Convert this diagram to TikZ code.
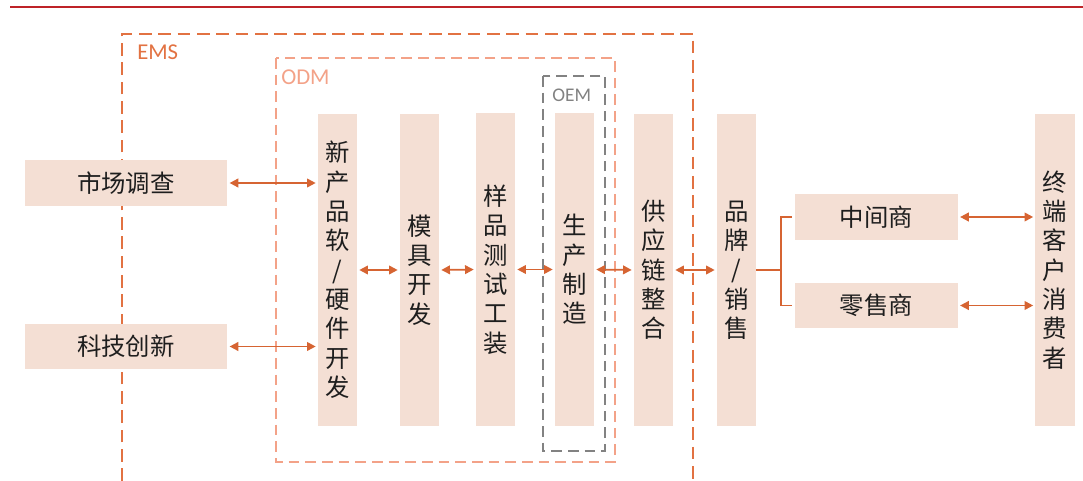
\documentclass[tikz,border=0pt]{standalone}
\usepackage{fontspec}
\setmainfont{Carlito}
\newfontfamily\cjk{Noto Sans CJK SC}
\usetikzlibrary{arrows.meta}
\definecolor{boxfill}{RGB}{244,223,212}
\definecolor{arrcol}{RGB}{214,100,50}
\definecolor{emscol}{RGB}{226,114,66}
\definecolor{odmcol}{RGB}{243,162,136}
\definecolor{oemcol}{RGB}{130,130,130}
\definecolor{topred}{RGB}{190,35,40}
\definecolor{txt}{RGB}{30,30,30}
\tikzset{
  box/.style={fill=boxfill, draw=none, inner sep=0pt, align=center, text=txt,
    font=\cjk\fontsize{18.3}{22}\selectfont},
  hbox/.style={box, minimum width=152pt, minimum height=34pt},
  mbox/.style={box, minimum width=122pt, minimum height=34pt},
  vbox/.style={box, minimum width=29.3pt, minimum height=234pt},
  arr/.style={draw=arrcol, line width=1.3pt, {Triangle[width=6.5pt,length=6.5pt]}-{Triangle[width=6.5pt,length=6.5pt]}, shorten <=1.5pt, shorten >=1.5pt},
  brk/.style={draw=arrcol, line width=1.3pt},
  emsbox/.style={draw=emscol, line width=1.4pt, dash pattern=on 9.5pt off 5pt},
  odmbox/.style={draw=odmcol, line width=1.3pt, dash pattern=on 8pt off 4.5pt},
  oembox/.style={draw=oemcol, line width=1.3pt, dash pattern=on 8pt off 4.5pt},
  lbl/.style={inner sep=0pt, anchor=west}
}
\begin{document}
\begin{tikzpicture}[x=0.75pt,y=-0.75pt]
\useasboundingbox (0,0) rectangle (1083,481);
% top rule
\draw[topred, line width=1.5pt] (10,7) -- (1083,7);
% frames
\draw[emsbox] (122,481) -- (122,34) -- (693,34) -- (693,481);
\node[lbl, text=emscol, font=\fontsize{17}{20}\selectfont] (ems) at (137,52) {EMS};
\draw[odmbox] (276,58) rectangle (615,462);
\node[lbl, text=odmcol, font=\fontsize{17}{20}\selectfont] (odm) at (281,77) {ODM};
\draw[oembox] (543,76) rectangle (605,451);
\node[lbl, text=oemcol, font=\fontsize{14.5}{17}\selectfont] (oem) at (552,95) {OEM};
% boxes
\node[hbox] (mkt) at (126,183) {市场调查};
\node[hbox] (tech) at (126,346.5) {科技创新};
\node[vbox] (npd) at (337.5,270) {新\\产\\品\\软\\/\\硬\\件\\开\\发};
\node[vbox] (mold) at (419.5,270) {模\\具\\开\\发};
\node[vbox] (test) at (495.5,269.5) {样\\品\\测\\试\\工\\装};
\node[vbox] (prod) at (574.5,269.5) {生\\产\\制\\造};
\node[vbox] (supp) at (653.5,270) {供\\应\\链\\整\\合};
\node[vbox] (brand) at (736.5,270) {品\\牌\\/\\销\\售};
\node[mbox] (mid) at (876.5,217) {中间商};
\node[mbox] (ret) at (876.5,305.5) {零售商};
\node[vbox] (cons) at (1055,270) {终\\端\\客\\户\\消\\费\\者};
% connectors
\draw[arr] (mkt.east) -- (mkt.east -| npd.west);
\draw[arr] (tech.east) -- (tech.east -| npd.west);
\draw[arr] (npd.east) -- (mold.west);
\draw[arr] (mold.east) -- (test.west);
\draw[arr] (test.east) -- (prod.west);
\draw[arr] (prod.east) -- (supp.west);
\draw[arr] (supp.east) -- (brand.west);
\coordinate (br) at (781,270);
\draw[brk] (brand.east) -- (br);
\draw[brk] ([xshift=-2pt]mid.west) -- (mid.west -| br) -- (ret.west -| br) -- ([xshift=-2pt]ret.west);
\draw[arr] (mid.east) -- (mid.east -| cons.west);
\draw[arr] (ret.east) -- (ret.east -| cons.west);
\end{tikzpicture}
\end{document}
